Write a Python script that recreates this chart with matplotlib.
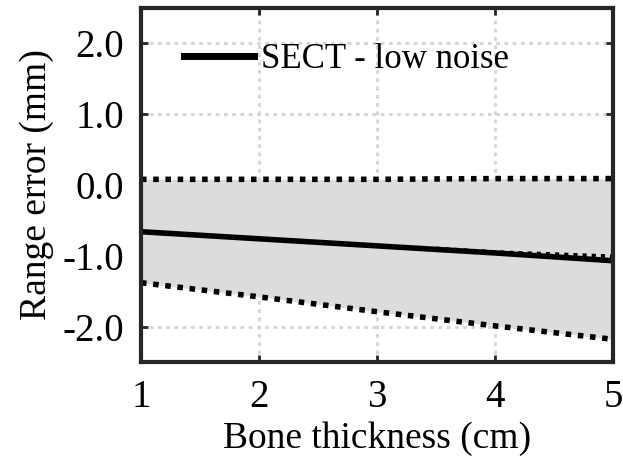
import matplotlib
matplotlib.use("Agg")
import matplotlib.pyplot as plt

thickness = [1, 2, 3, 4, 5]
mean_err = [-0.66, -0.76, -0.86, -0.96, -1.07]
upper = [0.08, 0.08, 0.08, 0.09, 0.09]
lower = [-1.38, -1.58, -1.79, -1.99, -2.18]
extra_x = [3.5, 4, 5]
extra_y = [-0.9, -0.95, -1.01]

plt.rcParams['font.family'] = ['Liberation Serif', 'DejaVu Serif']

fig = plt.figure(figsize=(6.23, 4.68), dpi=100)
ax = fig.add_axes([0.2263, 0.2265, 0.7577, 0.7565])

ax.fill_between(thickness, lower, upper, color='#dcdcdc', lw=0, zorder=1)
ax.plot(thickness, upper, color='black', lw=4, ls=(0, (1, 1.2)), zorder=3)
ax.plot(thickness, lower, color='black', lw=4, ls=(0, (1, 1.2)), zorder=3)
ax.plot(extra_x, extra_y, color='black', lw=3, ls=(0, (1, 1.2)), zorder=3)
ax.plot(thickness, mean_err, color='black', lw=4, zorder=4, label='SECT - low noise')

ax.set_xlim(1, 5)
ax.set_ylim(-2.5, 2.5)
ax.set_xticks([1, 2, 3, 4, 5])
ax.set_yticks([-2, -1, 0, 1, 2])
ax.set_yticklabels(['-2.0', '-1.0', '0.0', '1.0', '2.0'])
ax.grid(True, color='#d6d6d6', ls=(0, (1.2, 1.5)), lw=2.2, zorder=0)
ax.set_axisbelow(True)

for s in ax.spines.values():
    s.set_linewidth(3)
    s.set_color('#262626')
    s.set_zorder(6)

ax.tick_params(direction='in', length=5, width=2, color='#262626',
               top=True, right=True, labelsize=28, pad=12)
ax.set_xlabel('Bone thickness (cm)', fontsize=27, labelpad=4)
ax.set_ylabel('Range error (mm)', fontsize=27, labelpad=6)

leg = ax.legend(loc='upper left', frameon=False, fontsize=25, handlelength=2.0,
                handletextpad=0.2, borderaxespad=0.3, bbox_to_anchor=(0.04, 0.97))
for h in leg.get_lines():
    h.set_linewidth(5)

fig.savefig('out.png', dpi=100)
